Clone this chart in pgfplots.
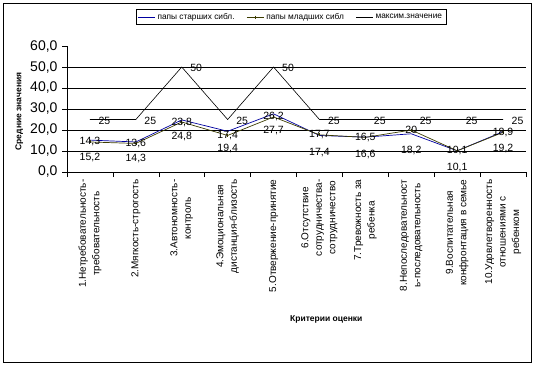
\documentclass[border=0pt]{standalone}
\usepackage{pgfplots}
\pgfplotsset{compat=1.18}
\usepackage{fontspec}
\setmainfont{Liberation Sans}
\definecolor{sblue}{RGB}{0,0,160}
\definecolor{solive}{RGB}{60,60,0}
\begin{document}
\begin{tikzpicture}
\useasboundingbox (0pt,0pt) rectangle (536pt,-367pt);
\draw[black, line width=0.8pt] (3pt,-3pt) rectangle (531pt,-362pt);
\begin{axis}[
  at={(67pt,-172pt)}, anchor=south west,
  scale only axis, width=459pt, height=126pt,
  xmin=0.5, xmax=10.5, ymin=0, ymax=60,
  axis x line=bottom, axis y line=left,
  axis line style={-, black, line width=0.6pt},
  clip=false,
  xtick={0.5,1.5,...,10.5}, xticklabels={},
  tick align=outside, major tick length=5pt,
  tick style={black, line width=0.6pt},
  extra x ticks={1,2,...,10},
  extra x tick labels={
    {1.Нетребовательность-\\требовательность},
    {2.Мягкость-строгость},
    {3.Автономность-\\контроль},
    {4.Эмоциональная\\дистанция-близость},
    {5.Отвержение-принятие},
    {6.Отсутствие\\сотрудничества-\\сотрудничество},
    {7.Тревожность за\\ребенка},
    {8.Непоследовательност\\ь-последовательность},
    {9.Воспитательная\\конфронтация в семье},
    {10.Удовлетворенность\\отношениями с\\ребенком}},
  extra x tick style={major tick length=0pt,
    tick label style={rotate=90, anchor=east, align=center,
      font=\fontsize{10}{13.5}\selectfont, xshift=-4pt}},
  ytick={0,10,...,60},
  yticklabel style={font=\fontsize{14}{16}\selectfont, xshift=-1pt,
    /pgf/number format/.cd, fixed, fixed zerofill, precision=1, use comma, assume math mode=true},
  extra y ticks={10,20,30,40,50},
  extra y tick labels={,,,,},
  extra y tick style={grid=major, major grid style={black, line width=0.6pt}},
  ylabel={\bfseries Средние значения},
  ylabel style={font=\fontsize{8.5}{10}\selectfont, at={(axis description cs:-0.104,0.48)}, anchor=center},
  xlabel={\bfseries Критерии оценки},
  xlabel style={font=\fontsize{8.5}{10}\selectfont, at={(axis description cs:0.565,0)}, anchor=center, yshift=-147pt},
  legend style={at={(0.488,1.23)}, anchor=center, draw=black, line width=0.6pt,
    font=\fontsize{8.3}{9}\selectfont, legend columns=3,
    inner xsep=2pt, inner ysep=1.5pt,
    /tikz/every even column/.append style={column sep=10pt}},
  legend image post style={line width=0.6pt},
  legend cell align=left,
]
\addplot[sblue, line width=0.7pt, nodes near coords, point meta=explicit symbolic,
  every node near coord/.append style={font=\fontsize{10.5}{12}\selectfont, text=black, anchor=center, yshift=-17pt}]
  coordinates {(1,15.2)[15,2] (2,14.3)[14,3] (3,24.8)[24,8] (4,19.4)[19,4] (5,27.7)[27,7]
    (6,17.4)[17,4] (7,16.6)[16,6] (8,18.2)[18,2] (9,10.1)[10,1] (10,19.2)[19,2]};
\addlegendentry{папы старших сибл.}
\addplot[solive, line width=0.7pt, mark=|, mark size=1.5pt, nodes near coords, point meta=explicit symbolic,
  every node near coord/.append style={font=\fontsize{10.5}{12}\selectfont, text=black, anchor=center, yshift=0pt}]
  coordinates {(1,14.3)[14,3] (2,13.6)[13,6] (3,23.8)[23,8] (4,17.4)[17,4] (5,26.2)[26,2]
    (6,17.7)[17,7] (7,16.5)[16,5] (8,20)[20] (9,10.1)[10,1] (10,18.9)[18,9]};
\addlegendentry{папы младших сибл}
\addplot[black, line width=0.6pt, nodes near coords, point meta=explicit symbolic,
  every node near coord/.append style={font=\fontsize{10.5}{12}\selectfont, text=black, anchor=west, xshift=5pt, yshift=-1pt}]
  coordinates {(1,25)[25] (2,25)[25] (3,50)[50] (4,25)[25] (5,50)[50]
    (6,25)[25] (7,25)[25] (8,25)[25] (9,25)[25] (10,25)[25]};
\addlegendentry{максим.значение}
\end{axis}
\end{tikzpicture}
\end{document}
